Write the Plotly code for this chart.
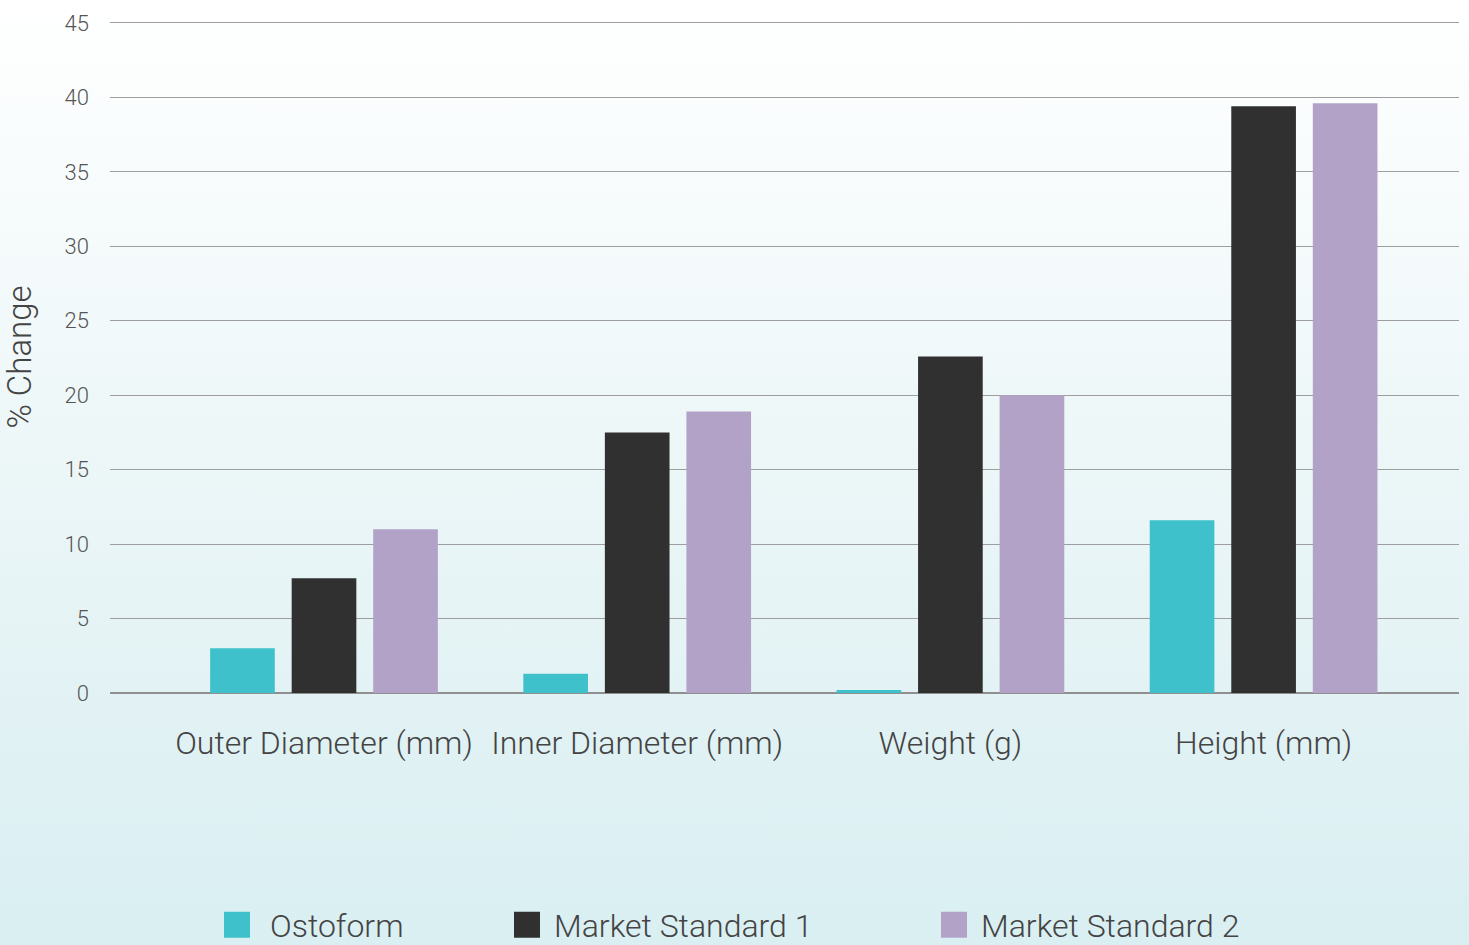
import base64
import plotly.graph_objects as go

categories = ["Outer Diameter (mm)", "Inner Diameter (mm)", "Weight (g)", "Height (mm)"]
ostoform = [3.0, 1.3, 0.2, 11.6]
market_standard_1 = [7.7, 17.5, 22.6, 39.4]
market_standard_2 = [11.0, 18.9, 20.0, 39.6]
series_names = ["Ostoform", "Market Standard 1", "Market Standard 2"]
series_colors = ["#3ec1ca", "#303030", "#b2a2c8"]
y_ticks = [0, 5, 10, 15, 20, 25, 30, 35, 40, 45]

W, H = 1469, 945
ml, mr, mt, mb = 110, 10, 21, 252
pw, ph = W - ml - mr, H - mt - mb
y_top = 45.13
cat_step, cat0 = 313.2, 324.0

svg = (
    f'<svg xmlns="http://www.w3.org/2000/svg" width="{W}" height="{H}" preserveAspectRatio="none">'
    '<defs><linearGradient id="g" x1="0" y1="0" x2="0" y2="1">'
    '<stop offset="0" stop-color="#ffffff"/>'
    '<stop offset="0.75" stop-color="#e2f2f4"/>'
    '<stop offset="1" stop-color="#d9eff2"/>'
    '</linearGradient></defs>'
    f'<rect width="{W}" height="{H}" fill="url(#g)"/></svg>'
)
src = "data:image/svg+xml;base64," + base64.b64encode(svg.encode()).decode()

font_family = "Roboto"
text_color = "#444444"

fig = go.Figure()
for i, (name, vals, col) in enumerate(zip(series_names, [ostoform, market_standard_1, market_standard_2], series_colors)):
    fig.add_trace(go.Bar(
        x=categories, y=vals, name=name, marker=dict(color=col, line=dict(width=0)),
        legend="legend" if i == 0 else f"legend{i+1}",
        hovertemplate="%{x}<br>" + name + ": %{y}<extra></extra>",
    ))

legend_common = dict(
    orientation="h", yanchor="middle", xanchor="left", y=-(925 - mt - ph) / ph,
    bgcolor="rgba(0,0,0,0)", borderwidth=0,
    font=dict(family=font_family, size=32, color=text_color, weight=300),
)
leg_px = [224, 514, 941]
fig.update_layout(
    width=W, height=H,
    margin=dict(l=ml, r=mr, t=mt, b=mb, pad=0, autoexpand=False),
    paper_bgcolor="#dff0f2",
    plot_bgcolor="rgba(0,0,0,0)",
    barmode="group",
    bargap=0.219,
    bargroupgap=0.207,
    font=dict(family=font_family, color=text_color, weight=300),
    images=[dict(source=src, xref="paper", yref="paper", x=-ml / pw, y=1 + mt / ph,
                 sizex=W / pw, sizey=H / ph, sizing="stretch", layer="below",
                 xanchor="left", yanchor="top")],
    legend=dict(x=(leg_px[0] - ml) / pw, **legend_common),
    legend2=dict(x=(leg_px[1] - ml) / pw, **legend_common),
    legend3=dict(x=(leg_px[2] - ml) / pw, **legend_common),
    showlegend=True,
    xaxis=dict(
        type="category",
        range=[(ml - cat0) / cat_step, (ml + pw - cat0) / cat_step],
        showgrid=False, showline=False, zeroline=False,
        ticks="", ticklabelstandoff=28,
        tickfont=dict(family=font_family, size=32, color=text_color, weight=300),
    ),
    yaxis=dict(
        range=[0, y_top], tickvals=y_ticks, ticktext=[str(v) for v in y_ticks],
        showgrid=True, gridcolor="#9e9e9e", gridwidth=1.3,
        zeroline=True, zerolinecolor="#8f8f8f", zerolinewidth=2,
        showline=False, ticks="", ticklabelstandoff=20,
        tickfont=dict(family=font_family, size=22, color="#555555", weight=300),
        title=dict(text="% Change", standoff=26,
                   font=dict(family=font_family, size=33, color=text_color, weight=300)),
    ),
)

post = (
    "document.body.style.margin='0';document.body.style.overflow='hidden';"
    "var gd=document.getElementById('{plot_id}');"
    "function bigSwatch(){"
    "gd.querySelectorAll('.legendpoints path').forEach(function(p){"
    "p.setAttribute('d','M6,13H-20V-13H6Z');});"
    "gd.querySelectorAll('text.legendtext').forEach(function(t){"
    "t.setAttribute('x','46');t.querySelectorAll('tspan[x]').forEach(function(s){s.setAttribute('x','46');});});}"
    "bigSwatch();gd.on('plotly_afterplot',bigSwatch);"
    "setTimeout(bigSwatch,30);setTimeout(bigSwatch,200);setTimeout(bigSwatch,600);"
)
fig.write_html("out.html", post_script=post, config={"displayModeBar": False})
